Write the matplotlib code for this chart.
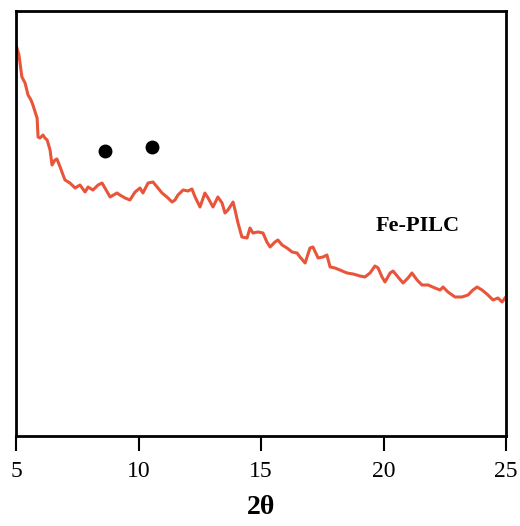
import matplotlib
matplotlib.use("Agg")
import matplotlib.pyplot as plt

two_theta = [5.00, 5.12, 5.24, 5.37, 5.49, 5.61, 5.69, 5.78, 5.86, 5.90, 5.98, 6.10, 6.18, 6.27,
             6.39, 6.47, 6.59, 6.67, 6.80, 6.92, 7.00, 7.20, 7.41, 7.61, 7.82, 7.94, 8.14, 8.35,
             8.51, 8.63, 8.84, 9.12, 9.24, 9.45, 9.65, 9.86, 10.06, 10.18, 10.39, 10.59, 10.76,
             10.96, 11.16, 11.37, 11.49, 11.61, 11.82, 12.02, 12.18, 12.31, 12.51, 12.71, 12.84,
             13.04, 13.24, 13.41, 13.53, 13.65, 13.86, 13.94, 14.06, 14.22, 14.43, 14.55, 14.67,
             14.88, 15.08, 15.24, 15.37, 15.57, 15.69, 15.86, 16.06, 16.27, 16.47, 16.59, 16.80,
             17.00, 17.12, 17.33, 17.53, 17.69, 17.82, 18.02, 18.22, 18.51, 18.76, 19.04, 19.24,
             19.45, 19.65, 19.78, 19.94, 20.06, 20.27, 20.39, 20.59, 20.80, 21.00, 21.16, 21.37,
             21.57, 21.82, 22.10, 22.31, 22.43, 22.63, 22.92, 23.20, 23.45, 23.65, 23.82, 24.02,
             24.22, 24.47, 24.67, 24.84, 24.96]
intensity = [391, 381, 359, 353, 341, 336, 331, 324, 318, 299, 298, 301, 298, 296,
             286, 271, 276, 277, 269, 261, 256, 253, 248, 251, 244, 249, 246, 251,
             253, 248, 239, 243, 241, 238, 236, 244, 248, 243, 253, 254, 249,
             243, 239, 234, 236, 241, 246, 245, 247, 239, 229, 243, 238,
             229, 239, 233, 223, 226, 234, 226, 213, 199, 198, 208, 203,
             204, 203, 194, 189, 194, 196, 191, 188, 184, 183, 179, 173,
             188, 189, 178, 179, 181, 169, 168, 166, 163, 162, 160, 159,
             163, 170, 168, 159, 154, 163, 165, 159, 153, 158, 163, 156,
             151, 151, 148, 146, 149, 144, 139, 139, 141, 146, 149, 146,
             142, 136, 138, 134, 138]

peak_x = [8.63, 10.55]
peak_y = [285, 289]

xticks = [5, 10, 15, 20, 25]
sample_label = "Fe-PILC"

serif = ["Liberation Serif", "DejaVu Serif"]

fig = plt.figure(figsize=(5.2, 5.26), dpi=100)
ax = fig.add_axes([0.0308, 0.1711, 0.9423, 0.8080])

ax.plot(two_theta, intensity, color="#E8553A", lw=2.2)
ax.plot(peak_x, peak_y, "o", color="black", markersize=9)
ax.text(21.41, 210, sample_label, ha="center", va="center", fontsize=16,
        fontweight="bold", family=serif)

ax.set_xlim(5, 25)
ax.set_ylim(0, 425)
ax.set_xticks(xticks)
ax.set_xticklabels([str(t) for t in xticks], family=serif, fontsize=17)
ax.set_yticks([])
ax.tick_params(axis="x", direction="out", length=11, width=1.5, pad=7)
for s in ax.spines.values():
    s.set_linewidth(2)

ax.set_xlabel("2θ", family=serif, fontweight="bold", fontsize=20, labelpad=9)

fig.savefig("out.png", dpi=100)
